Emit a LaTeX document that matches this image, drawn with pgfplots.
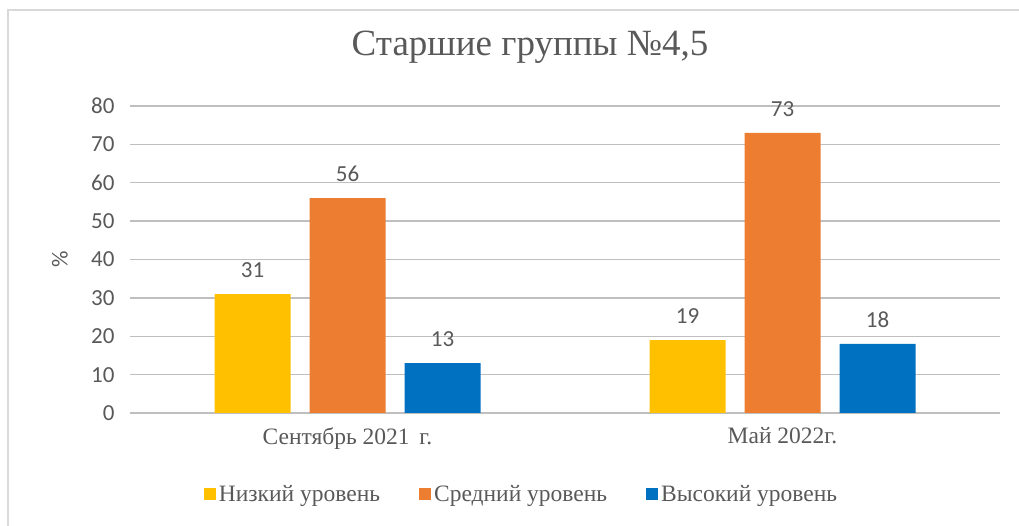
\documentclass[border=0pt]{standalone}
\usepackage{fontspec}
\setmainfont{Liberation Serif}
\newfontfamily\carlito{Carlito}
\usepackage{pgfplots}
\pgfplotsset{compat=1.18}
\definecolor{txt}{HTML}{595959}
\definecolor{grid}{HTML}{D9D9D9}
\definecolor{cY}{HTML}{FFC000}
\definecolor{cO}{HTML}{ED7D31}
\definecolor{cB}{HTML}{0070C0}
\begin{document}
\begin{tikzpicture}
\useasboundingbox (-130pt,-113pt) rectangle (889pt,413pt);
\draw[grid, line width=1.5pt] (-122pt,-113pt) -- (-122pt,403pt) -- (889pt,403pt);
\begin{axis}[
  at={(0pt,0pt)}, anchor=south west,
  width=870pt, height=307pt, scale only axis,
  xmin=-0.5, xmax=1.5, ymin=0, ymax=80,
  ytick={0,10,...,80},
  xtick={0,1},
  xticklabels={Сентябрь 2021\, г., Май 2022г.},
  ybar=19pt, bar width=76pt,
  axis line style={draw=none},
  major tick length=0pt, tick style={draw=none},
  xmajorgrids=false,
  ymajorgrids, major grid style={grid, line width=1.4pt},
  /pgf/number format/assume math mode=true,
  yticklabel style={font=\carlito\fontsize{23}{27}\selectfont, text=txt, xshift=-12pt},
  xticklabel style={font=\fontsize{23.5}{28}\selectfont, text=txt, anchor=north, yshift=-14pt, inner sep=0pt},
  ylabel={\%},
  every axis y label/.style={at={(rel axis cs:0,0.5)}, xshift=-70pt, rotate=90, anchor=center, font=\carlito\fontsize{23}{27}\selectfont, text=txt},
  title={Старшие группы №4,5},
  title style={at={(rel axis cs:0.4598,1)}, anchor=center, yshift=53pt, font=\fontsize{37}{44}\selectfont, text=txt},
  nodes near coords,
  every node near coord/.append style={font=\carlito\fontsize{23}{27}\selectfont, text=txt, anchor=south, inner sep=0pt, yshift=16pt},
  legend columns=3,
  legend style={at={(rel axis cs:0.4506,0)}, yshift=-81pt, anchor=center, draw=none, fill=none,
    font=\fontsize{23.5}{28}\selectfont, text=txt,
    /tikz/every even column/.append style={column sep=36pt},
    nodes={inner xsep=3pt}},
  every axis plot/.append style={legend image code/.code={\fill[##1] (0pt,-6pt) rectangle (12pt,6pt);}},
]
\addplot[fill=cY, draw=none] coordinates {(0,31) (1,19)};
\addplot[fill=cO, draw=none] coordinates {(0,56) (1,73)};
\addplot[fill=cB, draw=none] coordinates {(0,13) (1,18)};
\legend{Низкий уровень, Средний уровень, Высокий уровень}
\end{axis}
\end{tikzpicture}
\end{document}
